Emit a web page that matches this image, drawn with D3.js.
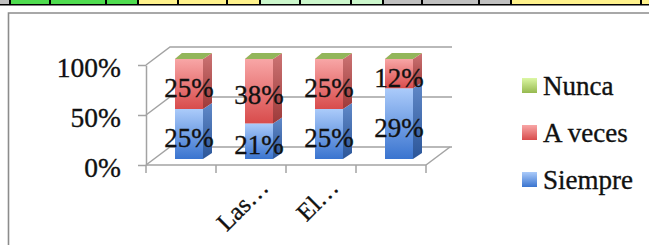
<!DOCTYPE html>
<html>
<head>
<meta charset="utf-8">
<script src="https://d3js.org/d3.v7.min.js"></script>
<style>
  body { margin: 0; background: #fff; }
  svg text { font-family: 'Liberation Serif', 'Times New Roman', serif; fill: #111; stroke: #111; stroke-width: 0.35px; }
</style>
</head>
<body>
<script>
// data
var categories = ["c1", "c2", "c3", "c4"];
var tickLabels = ["", "Las…", "El…", ""];
var siempre = [25, 21, 25, 29];
var aveces = [25, 38, 25, 12];
var nunca = [0, 0, 0, 0];
var seriesNames = ["Siempre", "A veces", "Nunca"];
var yTicks = [0, 0.5, 1];

// setup
var w = 649, h = 245;
var svg = d3.select("body").append("svg")
    .attr("width", w)
    .attr("height", h);

// spreadsheet cells peeking above the chart
var sheetCells = [
  {x0: 0, x1: 11, c: "#c0c0c0"},
  {x0: 11, x1: 138, c: "#4fdc4f"},
  {x0: 138, x1: 260, c: "#fff28c"},
  {x0: 260, x1: 383, c: "#ccf7cc"},
  {x0: 383, x1: 511, c: "#c0c0c0"},
  {x0: 511, x1: 649, c: "#fff28c"}
];
var sheetLines = [10, 50, 106, 138, 178, 227, 260, 300, 351, 383, 422, 479, 511, 641];
var sheet = svg.append("g");
sheet.selectAll("rect").data(sheetCells).enter().append("rect")
    .attr("x", d => d.x0).attr("y", 0)
    .attr("width", d => d.x1 - d.x0).attr("height", 4.5)
    .attr("fill", d => d.c);
sheet.selectAll("line.v").data(sheetLines).enter().append("line")
    .attr("x1", d => d).attr("x2", d => d)
    .attr("y1", 0).attr("y2", 5)
    .attr("stroke", "#000").attr("stroke-width", 2);
sheet.append("line")
    .attr("x1", 0).attr("x2", w).attr("y1", 4.8).attr("y2", 4.8)
    .attr("stroke", "#000").attr("stroke-width", 1.5);

// chart frame
svg.append("path")
    .attr("d", "M8.5," + h + "V13H" + w)
    .attr("fill", "none")
    .attr("stroke", "#8c8c8c")
    .attr("stroke-width", 1.6);

// gradients
var defs = svg.append("defs");
var palette = {
  "Siempre": {front: ["#abcbfa", "#3a74cf"], side: ["#6189c8", "#2c5699"], top: "#b9d3fa"},
  "A veces": {front: ["#f8a6a6", "#d84c4c"], side: ["#cc7474", "#9e3a3a"], top: "#f9b8b8"},
  "Nunca":   {front: ["#dcf7a4", "#96b94f"], side: ["#a8c070", "#7a9440"], top: "#92b65a"}
};
function grad(id, c) {
  var g = defs.append("linearGradient").attr("id", id)
      .attr("x1", 0).attr("y1", 0).attr("x2", 0).attr("y2", 1);
  g.append("stop").attr("offset", "0%").attr("stop-color", c[0]);
  g.append("stop").attr("offset", "100%").attr("stop-color", c[1]);
}
seriesNames.forEach(function(s, i) {
  grad("front" + i, palette[s].front);
  grad("side" + i, palette[s].side);
});

// scales
var x = d3.scaleBand().domain(categories).range([146, 426]);
var y = d3.scaleLinear().domain([0, 1]).range([165, 65]);
var depth = {dx: 24, dy: -18};
var barOff = {dx: 8, dy: -6};
var barDepth = {dx: 9, dy: -6};
var barW = 28;
var gridColor = "#a3a3a3";

// walls + gridlines
var walls = svg.append("g").attr("stroke", gridColor).attr("stroke-width", 1.5).attr("fill", "none");
var xl = x.range()[0], xr = x.range()[1];
yTicks.forEach(function(t) {
  walls.append("path")
      .attr("d", "M" + xl + "," + y(t) + "L" + (xl + depth.dx) + "," + (y(t) + depth.dy) +
                 "H" + (xr + depth.dx + 2));
});
walls.append("path")
    .attr("d", "M" + xr + "," + y(0) + "L" + (xr + depth.dx) + "," + (y(0) + depth.dy));

// stacked bars (100%)
var rows = categories.map(function(c, i) {
  return {cat: c, "Siempre": siempre[i], "A veces": aveces[i], "Nunca": nunca[i]};
});
var stack = d3.stack().keys(seriesNames).offset(d3.stackOffsetExpand)(rows);

var bars = svg.append("g");
stack.forEach(function(layer, si) {
  var name = seriesNames[si];
  layer.forEach(function(d) {
    var cx = x(d.data.cat) + x.bandwidth() / 2 + barOff.dx;
    var x0 = cx - barW / 2, x1 = cx + barW / 2;
    var yt = y(d[1]) + barOff.dy, yb = y(d[0]) + barOff.dy;
    var g = bars.append("g");
    g.append("rect")
        .attr("x", x0).attr("y", yt)
        .attr("width", barW).attr("height", Math.max(0, yb - yt))
        .attr("fill", "url(#front" + si + ")");
    g.append("path")
        .attr("d", "M" + x1 + "," + yt + "L" + (x1 + barDepth.dx) + "," + (yt + barDepth.dy) +
                   "L" + (x1 + barDepth.dx) + "," + (yb + barDepth.dy) + "L" + x1 + "," + yb + "Z")
        .attr("fill", "url(#side" + si + ")");
    g.append("path")
        .attr("d", "M" + x0 + "," + yt + "L" + (x0 + barDepth.dx - 2) + "," + (yt + barDepth.dy) +
                   "L" + (x1 + barDepth.dx) + "," + (yt + barDepth.dy) + "L" + x1 + "," + yt + "Z")
        .attr("fill", palette[name].top);
  });
});

// data labels
var values = {"Siempre": siempre, "A veces": aveces, "Nunca": nunca};
var labels = svg.append("g").attr("text-anchor", "middle").style("font-size", "27px");
stack.forEach(function(layer, si) {
  var name = seriesNames[si];
  layer.forEach(function(d, i) {
    var v = values[name][i];
    if (!v) return;
    var cx = x(d.data.cat) + x.bandwidth() / 2 + barOff.dx;
    var cy = (y(d[0]) + y(d[1])) / 2 + barOff.dy;
    labels.append("text")
        .attr("x", cx).attr("y", cy + 13)
        .text(v + "%");
  });
});

// value axis
var yAxis = d3.axisLeft(y)
    .tickValues(yTicks)
    .tickFormat(d3.format(".0%"))
    .tickSize(8)
    .tickSizeOuter(0)
    .tickPadding(17);
var ya = svg.append("g")
    .attr("transform", "translate(" + xl + ",0)")
    .call(yAxis);
ya.selectAll("path, line").attr("stroke", gridColor).attr("stroke-width", 1.5);
ya.selectAll("text")
    .attr("dy", "0.43em")
    .style("font-family", "'Liberation Serif', serif")
    .style("font-size", "27.5px")
    .attr("fill", "#111");

// category axis
var ca = svg.append("g").attr("stroke", gridColor).attr("stroke-width", 1.5);
ca.append("line").attr("x1", xl).attr("x2", xr).attr("y1", y(0)).attr("y2", y(0));
var bounds = categories.map(c => x(c)).concat([xr]);
ca.selectAll("line.tick").data(bounds).enter().append("line")
    .attr("x1", d => d).attr("x2", d => d)
    .attr("y1", y(0)).attr("y2", y(0) + 8);
svg.append("g").selectAll("text").data(categories).enter().append("text")
    .filter((d, i) => tickLabels[i] !== "")
    .attr("text-anchor", "end")
    .attr("transform", function(d) {
      return "translate(" + (x(d) + x.bandwidth() / 2 + 19) + "," + 189 + ") rotate(-45)";
    })
    .style("font-size", "25px")
    .text(d => tickLabels[categories.indexOf(d)]);

// legend
var legend = svg.append("g").attr("transform", "translate(522,78)");
var legendOrder = ["Nunca", "A veces", "Siempre"];
var li = legend.selectAll("g").data(legendOrder).enter().append("g")
    .attr("transform", (d, i) => "translate(0," + i * 47 + ")");
li.append("rect")
    .attr("width", 15).attr("height", 15)
    .attr("fill", d => "url(#front" + seriesNames.indexOf(d) + ")");
li.append("text")
    .attr("x", 21).attr("y", 17)
    .style("font-size", "27px")
    .text(d => d);
</script>
</body>
</html>
